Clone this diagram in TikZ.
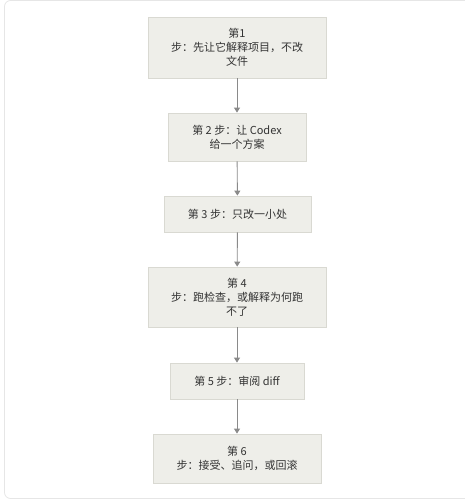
\documentclass[tikz,border=0pt]{standalone}
\usepackage{fontspec}
\newfontfamily\cjk{Noto Sans CJK SC}
\usetikzlibrary{arrows.meta}
\definecolor{boxfill}{HTML}{EEEEE9}
\definecolor{boxline}{HTML}{D9D9D2}
\definecolor{arrowc}{HTML}{8A8A8A}
\definecolor{txt}{HTML}{333333}
\definecolor{frame}{HTML}{E6E6E6}
\tikzset{
  stepbox/.style={draw=boxline, fill=boxfill, line width=0.8pt, inner sep=0pt,
    align=center, text=txt, font=\cjk\fontsize{11}{14}\selectfont},
  flow/.style={draw=arrowc, line width=0.9pt, -{Triangle[width=6pt,length=5pt]}}
}
\begin{document}
\begin{tikzpicture}[x=1pt,y=-1pt]
\useasboundingbox (0,0) rectangle (465,500);
\draw[frame, line width=0.8pt, rounded corners=6pt] (4.5,0.5) rectangle (480,498.5);
\node[stepbox, minimum width=178pt, minimum height=61pt] (s1) at (237,47.5) {第1\\步：先让它解释项目，不改\\文件};
\node[stepbox, minimum width=138pt, minimum height=48pt] (s2) at (237,137) {第 2 步：让 Codex\\给一个方案};
\node[stepbox, minimum width=147pt, minimum height=36pt] (s3) at (237.5,214) {第 3 步：只改一小处};
\node[stepbox, minimum width=178pt, minimum height=60pt] (s4) at (237,297) {第 4\\步：跑检查，或解释为何跑\\不了};
\node[stepbox, minimum width=134pt, minimum height=36pt] (s5) at (237,381) {第 5 步：审阅 diff};
\node[stepbox, minimum width=168pt, minimum height=49pt] (s6) at (237,458.5) {第 6\\步：接受、追问，或回滚};
\draw[flow] (s1) -- (s2);
\draw[flow] (s2) -- (s3);
\draw[flow] (s3) -- (s4);
\draw[flow] (s4) -- (s5);
\draw[flow] (s5) -- (s6);
\end{tikzpicture}
\end{document}
